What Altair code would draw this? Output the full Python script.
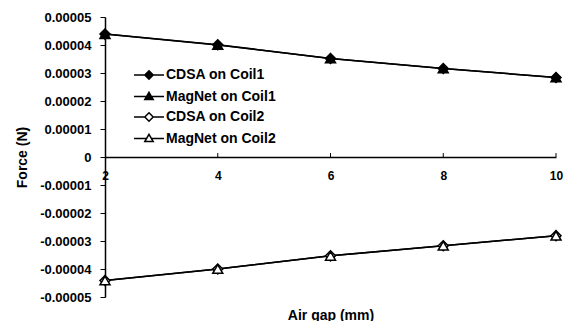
import altair as alt
import pandas as pd

# ---- data ----
gaps = [2, 4, 6, 8, 10]
cdsa_coil1 = [4.39e-5, 4.01e-5, 3.52e-5, 3.16e-5, 2.84e-5]
magnet_coil1 = [4.39e-5, 4.00e-5, 3.52e-5, 3.16e-5, 2.84e-5]
cdsa_coil2 = [-4.41e-5, -4.00e-5, -3.53e-5, -3.17e-5, -2.81e-5]
magnet_coil2 = [-4.41e-5, -4.00e-5, -3.53e-5, -3.17e-5, -2.81e-5]
series_names = ["CDSA on Coil1", "MagNet on Coil1", "CDSA on Coil2", "MagNet on Coil2"]
y_ticks = [-5e-5, -4e-5, -3e-5, -2e-5, -1e-5, 0, 1e-5, 2e-5, 3e-5, 4e-5, 5e-5]
x_ticks = [2, 4, 6, 8, 10]
x_title = "Air gap (mm)"
y_title = "Force (N)"

# ---- styles ----
FONT = "Liberation Sans"
point_shapes = ["diamond", "triangle-up", "diamond", "triangle-up"]
point_fills = ["black", "black", "white", "white"]
point_strokes = ["black", "black", "black", "black"]
legend_paths = [
    "M-1.5,0L-0.42,0M0.42,0L1.5,0M0,-0.42L0.42,0L0,0.42L-0.42,0Z",
    "M-1.5,0L-0.26,0M0.26,0L1.5,0M0,-0.42L0.42,0.3L-0.42,0.3Z",
    "M-1.5,0L-0.42,0M0.42,0L1.5,0M0,-0.42L0.42,0L0,0.42L-0.42,0Z",
    "M-1.5,0L-0.26,0M0.26,0L1.5,0M0,-0.42L0.42,0.3L-0.42,0.3Z",
]
tick_len = 1.4e-6

rows = []
for name, vals in zip(series_names, [cdsa_coil1, magnet_coil1, cdsa_coil2, magnet_coil2]):
    for g, v in zip(gaps, vals):
        rows.append({"gap": g, "force": v, "series": name})
df = pd.DataFrame(rows)
tick_df = pd.DataFrame({"gap": x_ticks[1:], "y0": 0.0, "y1": tick_len})

xscale = alt.Scale(domain=[2, 10], nice=False, zero=False)
yscale = alt.Scale(domain=[-5e-5, 5e-5], nice=False)

x_enc = alt.X(
    "gap:Q", scale=xscale,
    axis=alt.Axis(
        values=x_ticks, tickCount=len(x_ticks), format="d", offset=-140, domain=True,
        domainColor="black", domainWidth=1.5,
        ticks=False, labelPadding=13, labelFont=FONT, labelFontSize=12,
        labelFontWeight="bold", labelColor="black", grid=False, labelOverlap=False,
        title=x_title, titleFont=FONT, titleFontSize=14, titleFontWeight="bold",
        titleColor="black", titleY=158, titleX=225.5, titleBaseline="middle",
        labelFlush=False,
    ),
)
y_enc = alt.Y(
    "force:Q", scale=yscale,
    axis=alt.Axis(
        values=y_ticks, tickCount=len(y_ticks), grid=False, domainColor="black", domainWidth=1.5,
        tickColor="black", tickSize=5, tickWidth=1, labelPadding=9, labelOverlap=False,
        labelExpr="datum.value == 0 ? '0' : (datum.value < 0 ? '-' : '') + format(abs(datum.value), '.5f')",
        labelFont=FONT, labelFontSize=13, labelFontWeight="bold", labelColor="black",
        title=y_title, titleFont=FONT, titleFontSize=14, titleFontWeight="bold",
        titleColor="black", titleX=-83, titleY=140, titleAlign="center",
        titleBaseline="middle", labelFlush=False,
    ),
)

lines = alt.Chart(df).mark_line(color="black", strokeWidth=1.5).encode(
    x=x_enc, y=y_enc, detail="series:N"
)

points = alt.Chart(df).mark_point(filled=True, strokeWidth=1.5, size=100, opacity=1).encode(
    x="gap:Q", y="force:Q",
    shape=alt.Shape("series:N", scale=alt.Scale(domain=series_names, range=point_shapes), legend=None),
    fill=alt.Fill("series:N", scale=alt.Scale(domain=series_names, range=point_fills), legend=None),
    stroke=alt.Stroke("series:N", scale=alt.Scale(domain=series_names, range=point_strokes), legend=None),
)

leg = alt.Legend(
    title=None, orient="none", legendX=33, legendY=47, padding=0,
    symbolSize=400, symbolOpacity=1, symbolStrokeWidth=1.5,
    labelFont=FONT, labelFontSize=14, labelFontWeight="bold", labelColor="black",
    labelOffset=6, rowPadding=2.5, labelLimit=200,
)

legend_layer = alt.Chart(df).mark_point(filled=True, strokeWidth=1.5, size=400, opacity=0).encode(
    x="gap:Q", y="force:Q",
    shape=alt.Shape("series:N", scale=alt.Scale(domain=series_names, range=legend_paths), legend=leg),
    fill=alt.Fill("series:N", scale=alt.Scale(domain=series_names, range=point_fills), legend=leg),
    stroke=alt.Stroke("series:N", scale=alt.Scale(domain=series_names, range=point_strokes), legend=leg),
)

ticks = alt.Chart(tick_df).mark_rule(color="black", strokeWidth=1).encode(
    x="gap:Q", y="y0:Q", y2="y1:Q"
)

chart = (
    alt.layer(lines, ticks, points, legend_layer)
    .resolve_scale(shape="independent", fill="independent", stroke="independent")
    .properties(
        width=451, height=280,
        autosize=alt.AutoSizeParams(type="none"),
        padding={"left": 97, "top": 9, "right": 14, "bottom": 24},
        background="white",
    )
    .configure_view(stroke=None)
)

chart.save("out.html", embed_options={"renderer": "svg", "actions": False})
